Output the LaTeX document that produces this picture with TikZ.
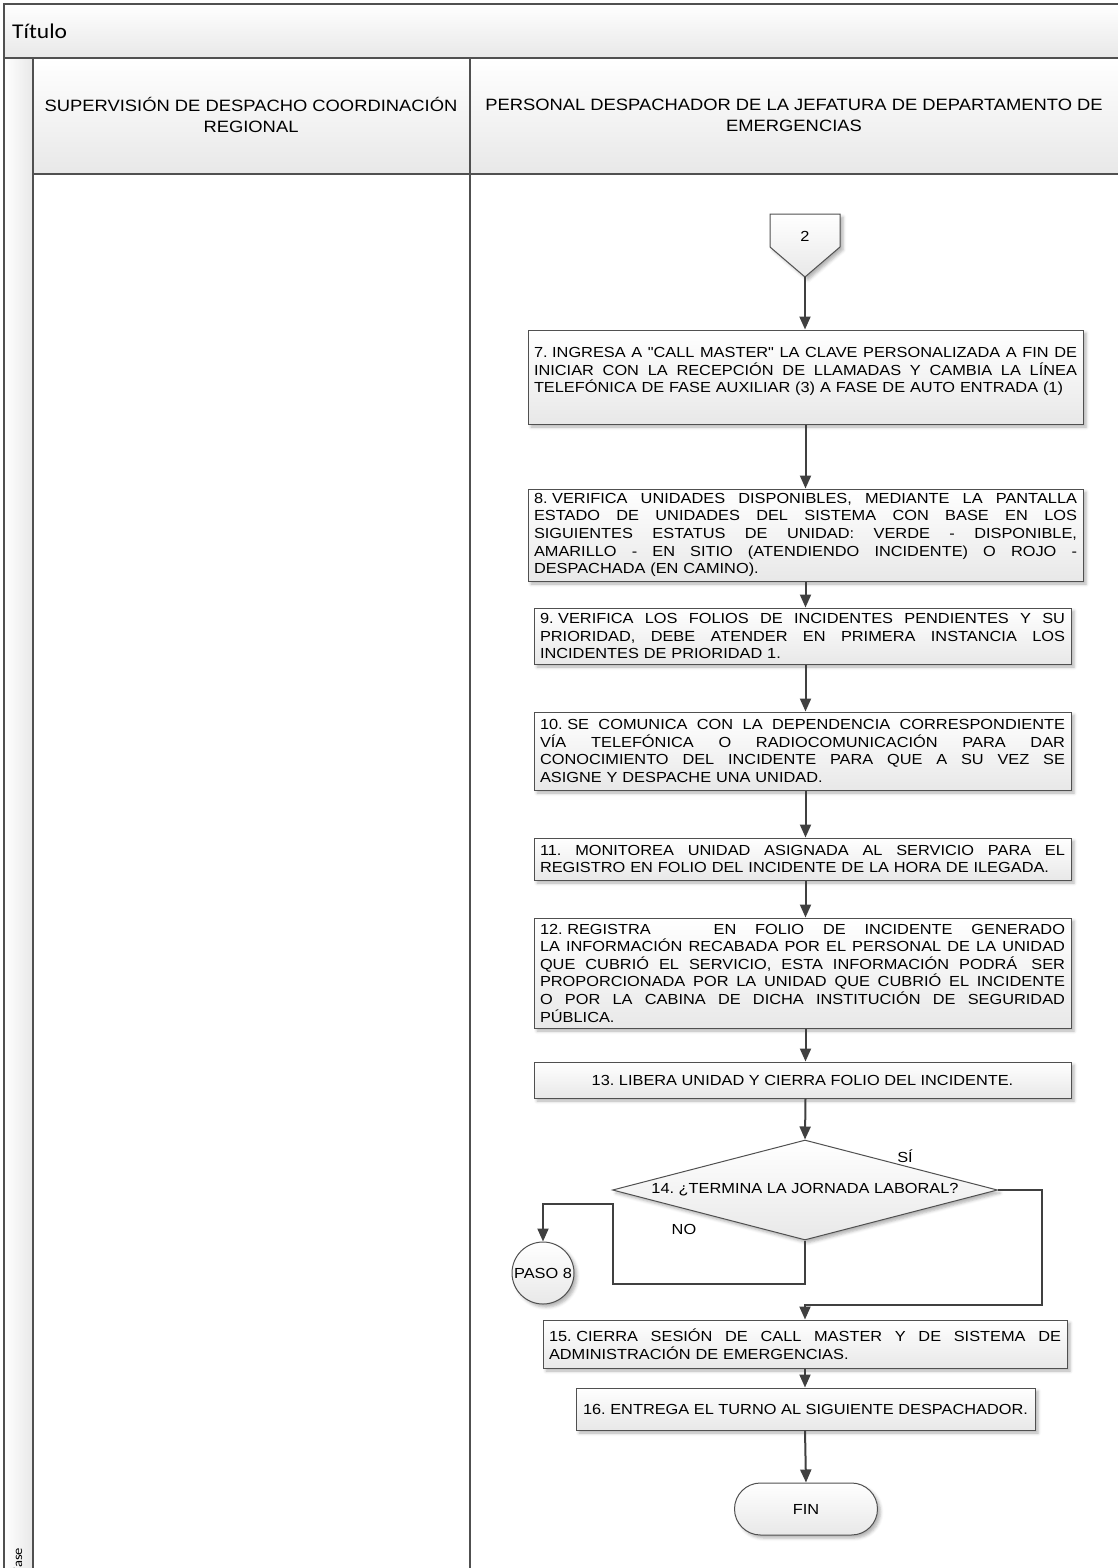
\documentclass[tikz,border=0pt]{standalone}
\usepackage{fontspec}
\setmainfont{Liberation Sans}[FakeStretch=1.12, Ligatures=TeXOff]
\newfontfamily\titlefont{Carlito}[FakeStretch=1.12]
\usetikzlibrary{shapes.geometric,arrows.meta,shadows.blur}

\definecolor{linec}{HTML}{404040}
\definecolor{edgec}{HTML}{505050}
\definecolor{fillbot}{HTML}{E8E8E8}

\newcommand{\boxfont}{\fontsize{14.6}{17.6}\selectfont\frenchspacing}
\newcommand{\headfont}{\fontsize{16.4}{21}\selectfont}
% a fully justified line: every inter-word space may stretch
\newcommand{\fullline}[1]{{\spaceskip=\fontdimen2\font plus 1fil\relax\makebox[\linewidth][s]{#1}}\\}
% a rigid word space that does not stretch
\newcommand{\ns}{\hspace{\fontdimen2\font}}

\tikzset{
  flow/.style={draw=linec, line width=2pt, -{Triangle[length=13pt,width=11pt]}},
  softshadow/.style={blur shadow={shadow xshift=3pt, shadow yshift=-3pt, shadow blur radius=3pt, shadow opacity=30}},
  stepbox/.style={draw=edgec, line width=1pt, top color=white, bottom color=fillbot,
    softshadow, inner sep=0pt, font=\boxfont, align=left},
  shapebox/.style={draw=edgec, line width=1pt, top color=white, bottom color=fillbot, softshadow},
  lanetext/.style={font=\headfont, align=center},
  note/.style={font=\boxfont, inner sep=0pt},
}

\begin{document}
\begin{tikzpicture}[x=1pt,y=-1pt]
\useasboundingbox (0,0) rectangle (1117,1568);

% pool frame: title bar, phase strip and lane headers
\shade[top color=white, bottom color=fillbot] (4,4) rectangle (1125,58);
\shade[left color=white, right color=fillbot] (4,58) rectangle (33,1580);
\shade[top color=white, bottom color=fillbot] (33,58) rectangle (1125,174);
\draw[edgec, line width=1.4pt] (1125,4) -- (4,4) -- (4,1580);
\draw[edgec, line width=1.4pt] (4,58) -- (1125,58);
\draw[edgec, line width=1.4pt] (33,58) -- (33,1580);
\draw[edgec, line width=1.4pt] (33,174) -- (1125,174);
\draw[edgec, line width=1.4pt] (470,58) -- (470,1580);

\node[anchor=west, font=\titlefont\fontsize{21}{24}\selectfont, inner sep=0pt] (title) at (12,31) {Título};
\node[rotate=90, font=\titlefont\fontsize{13}{15}\selectfont, inner sep=0pt] (phase) at (18,1561) {Fase};

\node[lanetext] (lane1) at (251,115) {SUPERVISIÓN DE DESPACHO COORDINACIÓN\\REGIONAL};
\node[lanetext] (lane2) at (794,115) {PERSONAL DESPACHADOR DE LA JEFATURA DE DEPARTAMENTO DE\\EMERGENCIAS};

% off-page connector
\path[shapebox] (770,214) -- (840,214) -- (840,247) -- (805,277) -- (770,247) -- cycle;
\node[note] (c2) at (805,236) {2};
\coordinate (c2tip) at (805,277);

% process steps
\node[stepbox, minimum width=555pt, minimum height=94pt, text width=543pt, text depth=49pt] (b7) at (805.5,377) {%
\fullline{7.\ns INGRESA A "CALL MASTER" LA CLAVE PERSONALIZADA A FIN DE}
\fullline{INICIAR CON LA RECEPCIÓN DE LLAMADAS Y CAMBIA LA LÍNEA}
TELEFÓNICA DE FASE AUXILIAR (3) A FASE DE AUTO ENTRADA (1)};

\node[stepbox, minimum width=555pt, minimum height=92pt, text width=543pt] (b8) at (805.5,535) {%
\fullline{8.\ns VERIFICA UNIDADES DISPONIBLES, MEDIANTE LA PANTALLA}
\fullline{ESTADO DE UNIDADES DEL SISTEMA CON BASE EN LOS}
\fullline{SIGUIENTES ESTATUS DE UNIDAD: VERDE - DISPONIBLE,}
\fullline{AMARILLO - EN SITIO (ATENDIENDO INCIDENTE) O ROJO -}
DESPACHADA (EN CAMINO).};

\node[stepbox, minimum width=537pt, minimum height=56pt, text width=525pt] (b9) at (802.5,636) {%
\fullline{9.\ns VERIFICA LOS FOLIOS DE INCIDENTES PENDIENTES Y SU}
\fullline{PRIORIDAD, DEBE ATENDER EN PRIMERA INSTANCIA LOS}
INCIDENTES DE PRIORIDAD 1.};

\node[stepbox, minimum width=537pt, minimum height=78pt, text width=525pt] (b10) at (802.5,751) {%
\fullline{10.\ns SE COMUNICA CON LA DEPENDENCIA CORRESPONDIENTE}
\fullline{VÍA TELEFÓNICA O RADIOCOMUNICACIÓN PARA DAR}
\fullline{CONOCIMIENTO DEL INCIDENTE PARA QUE A SU VEZ SE}
ASIGNE Y DESPACHE UNA UNIDAD.};

\node[stepbox, minimum width=537pt, minimum height=42pt, text width=525pt] (b11) at (802.5,859) {%
\fullline{11. MONITOREA UNIDAD ASIGNADA AL SERVICIO PARA EL}
REGISTRO EN FOLIO DEL INCIDENTE DE LA HORA DE ILEGADA.};

\node[stepbox, minimum width=537pt, minimum height=110pt, text width=525pt] (b12) at (802.5,973) {%
\fullline{12.\ns REGISTRA\hspace{44pt} EN FOLIO DE INCIDENTE GENERADO}
\fullline{LA INFORMACIÓN RECABADA POR EL PERSONAL DE LA UNIDAD}
\fullline{QUE CUBRIÓ EL SERVICIO, ESTA INFORMACIÓN PODRÁ\hspace{4pt} SER}
\fullline{PROPORCIONADA POR LA UNIDAD QUE CUBRIÓ EL INCIDENTE}
\fullline{O POR LA CABINA DE DICHA INSTITUCIÓN DE SEGURIDAD}
PÚBLICA.};

\node[stepbox, minimum width=537pt, minimum height=36pt, align=center] (b13) at (802.5,1080)
  {13. LIBERA UNIDAD Y CIERRA FOLIO DEL INCIDENTE.};

% decision
\node[diamond, shapebox, minimum width=385pt, minimum height=100pt, inner sep=0pt,
  label={[note]center:14. ¿TERMINA LA JORNADA LABORAL?}] (d14) at (805,1190) {};

\node[circle, shapebox, minimum size=62pt, inner sep=0pt, font=\boxfont] (p8) at (543,1273) {PASO 8};

\node[stepbox, minimum width=524pt, minimum height=48pt, text width=512pt] (b15) at (805,1344) {%
\fullline{15.\ns CIERRA SESIÓN DE CALL MASTER Y DE SISTEMA DE}
ADMINISTRACIÓN DE EMERGENCIAS.};

\node[stepbox, minimum width=459pt, minimum height=42pt, align=center] (b16) at (805.5,1409)
  {16. ENTREGA EL TURNO AL SIGUIENTE DESPACHADOR.};

\node[shapebox, rectangle, rounded corners=26pt, minimum width=143pt, minimum height=52pt,
  font=\boxfont] (fin) at (806,1509) {FIN};

% connectors
\draw[flow] (c2tip) -- (c2tip |- b7.north);
\draw[flow] (b7.south) -- (b7.south |- b8.north);
\draw[flow] (b8.south) -- (b8.south |- b9.north);
\draw[flow] (b8.south |- b9.south) -- (b8.south |- b10.north);
\draw[flow] (b8.south |- b10.south) -- (b8.south |- b11.north);
\draw[flow] (b8.south |- b11.south) -- (b8.south |- b12.north);
\draw[flow] (b8.south |- b12.south) -- (b8.south |- b13.north);
\draw[flow] (b8.south |- b13.south) -- (d14.north);

\coordinate (yesA) at (1042,1305);
\draw[flow] (d14.east) -| (yesA) -- (yesA -| d14.south) -- (d14.south |- b15.north);
\node[note] (si) at (905,1156) {SÍ};

\draw[flow] (d14.south) -- ++(0,43) -| (613,1204) -| (p8.north);
\node[note] (no) at (684,1229) {NO};

\draw[flow] (d14.south |- b15.south) -- (d14.south |- b16.north);
\draw[flow] (d14.south |- b16.south) -- (fin.north);
\end{tikzpicture}
\end{document}
